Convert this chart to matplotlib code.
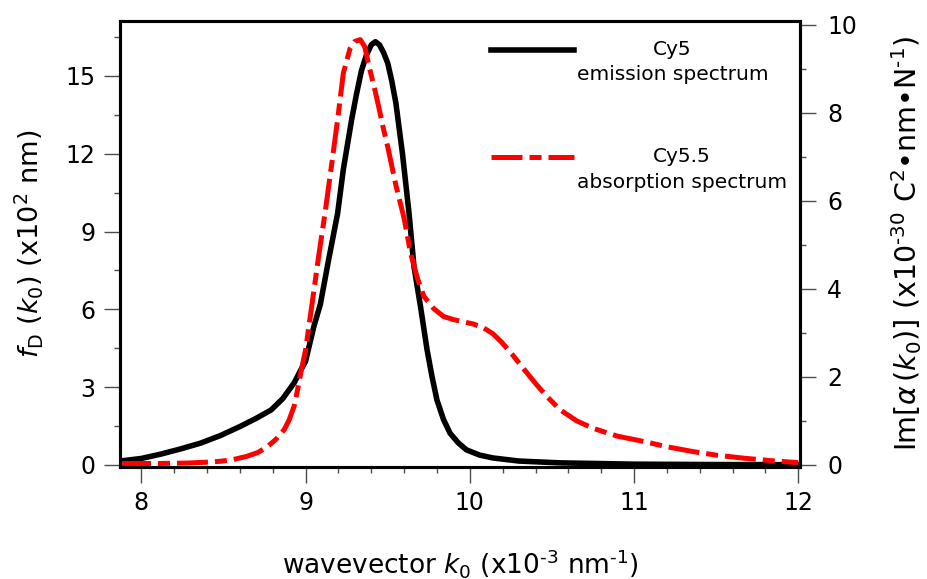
import numpy as np
import matplotlib
matplotlib.use('Agg')
import matplotlib.pyplot as plt
from matplotlib.ticker import MultipleLocator

# Cy5 emission spectrum (left axis, x10^2 nm)
k_em = [7.87, 8.00, 8.12, 8.24, 8.36, 8.48, 8.60, 8.70, 8.79, 8.86, 8.93, 8.97,
        9.00, 9.05, 9.09, 9.14, 9.195, 9.23, 9.28, 9.31, 9.34, 9.37, 9.40, 9.425,
        9.45, 9.475, 9.50, 9.525, 9.55, 9.59, 9.63, 9.66, 9.70, 9.74, 9.77, 9.80,
        9.84, 9.88, 9.93, 9.98, 10.06, 10.14, 10.30, 10.55, 11.00, 11.50, 12.00]
f_em = [0.15, 0.25, 0.42, 0.62, 0.84, 1.13, 1.48, 1.80, 2.12, 2.55, 3.16, 3.65,
        4.00, 5.33, 6.20, 7.90, 9.70, 11.40, 13.30, 14.30, 15.20, 15.80, 16.20, 16.32,
        16.20, 15.90, 15.50, 14.80, 13.95, 12.00, 9.70, 7.65, 6.10, 4.43, 3.40, 2.50,
        1.75, 1.22, 0.85, 0.58, 0.38, 0.27, 0.15, 0.08, 0.03, 0.015, 0.01]

# Cy5.5 absorption spectrum (right axis, x10^-30 C^2.nm.N^-1)
k_ab = [7.87, 8.10, 8.28, 8.40, 8.48, 8.56, 8.64, 8.71, 8.77, 8.82, 8.87, 8.90,
        8.93, 8.95, 8.97, 9.00, 9.04, 9.08, 9.12, 9.16, 9.195, 9.23, 9.27, 9.30,
        9.333, 9.36, 9.39, 9.42, 9.445, 9.47, 9.50, 9.55, 9.60, 9.64, 9.68, 9.72,
        9.78, 9.84, 9.90, 9.96, 10.02, 10.08, 10.14, 10.19, 10.26, 10.33, 10.40, 10.47,
        10.55, 10.65, 10.75, 10.90, 11.06, 11.20, 11.36, 11.50, 11.67, 11.85, 12.00]
a_ab = [0.03, 0.03, 0.04, 0.06, 0.08, 0.12, 0.19, 0.28, 0.42, 0.58, 0.80, 1.02,
        1.33, 1.68, 2.08, 2.61, 3.67, 4.75, 5.76, 6.86, 7.84, 8.90, 9.45, 9.62,
        9.66, 9.50, 9.00, 8.55, 8.14, 7.70, 7.23, 6.35, 5.60, 4.80, 4.25, 3.83,
        3.55, 3.37, 3.30, 3.25, 3.20, 3.12, 2.98, 2.80, 2.50, 2.17, 1.85, 1.55,
        1.25, 1.00, 0.83, 0.65, 0.53, 0.41, 0.30, 0.22, 0.15, 0.09, 0.05]

labels = ['\nCy5\nemission spectrum', '\nCy5.5\nabsorption spectrum']

plt.rcParams['font.family'] = 'DejaVu Sans'
plt.rcParams['mathtext.fontset'] = 'dejavusans'

fig = plt.figure(figsize=(9.28, 5.79), dpi=100)
ax = fig.add_axes([0.1293, 0.1934, 0.862 - 0.1293, 0.9642 - 0.1934])
ax2 = ax.twinx()

l1, = ax.plot(k_em, f_em, color='k', lw=4, solid_joinstyle='round')
l2, = ax2.plot(k_ab, a_ab, color='#ff0000', lw=3.6,
               linestyle=(0, (6.2, 1.4, 2.4, 1.4)))

ax.set_xlim(7.87, 12.01)
ax.set_ylim(-0.08, 17.13)
ax2.set_ylim(-0.05, 10.09)

ax.xaxis.set_major_locator(MultipleLocator(1))
ax.xaxis.set_minor_locator(MultipleLocator(0.2))
ax.yaxis.set_major_locator(MultipleLocator(3))
ax.yaxis.set_minor_locator(MultipleLocator(1.5))
ax2.yaxis.set_major_locator(MultipleLocator(2))
ax2.yaxis.set_minor_locator(MultipleLocator(1))

for a in (ax, ax2):
    for s in a.spines.values():
        s.set_linewidth(2.2)
    a.tick_params(which='major', direction='out', length=11.5, width=1.0,
                  color='0.3', labelsize=17, pad=6)
    a.tick_params(which='minor', direction='out', length=4, width=1.0, color='0.3')
ax2.tick_params(which='major', pad=8)

ax.set_xlabel(r'wavevector $k_0$ (x10$^{\text{-3}}$ nm$^{\text{-1}}$)', fontsize=19, labelpad=23)
ax.set_ylabel(r'$f_{\rm D}$ $(k_0)$ (x10$^2$ nm)', fontsize=19.5, labelpad=15)
ax2.set_ylabel(r'Im[$\alpha\,(k_0)$] (x10$^{\text{-30}}$ C$^2$•nm•N$^{\text{-1}}$)',
               fontsize=20.5, labelpad=23, rotation=90)

leg = ax2.legend([l1, l2], labels, loc='upper left', bbox_to_anchor=(0.519, 1.056),
                 frameon=False, fontsize=14.5, handlelength=4.1, handletextpad=0.15,
                 labelspacing=1.85)
for t in leg.get_texts():
    t.set_multialignment('center')
    t.set_linespacing(1.45)

fig.savefig('out.png', dpi=100)
